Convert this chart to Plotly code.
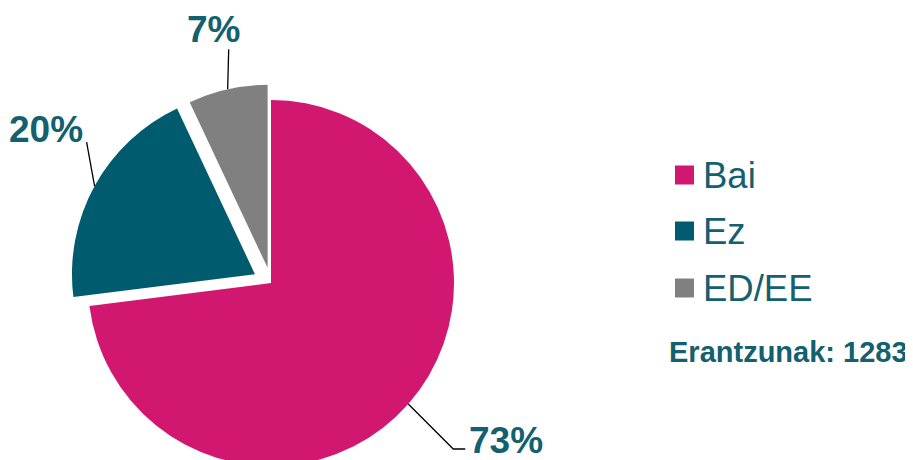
import math
import plotly.graph_objects as go

# ---- data ----
labels = ["Bai", "Ez", "ED/EE"]
values = [73, 20, 7]
colors = ["#D1176F", "#005B6F", "#808080"]
pulls = [0, 0.1, 0.085]
respondents = 1283
note_text = f"Erantzunak: {respondents}"

# ---- layout constants (pixels in the final picture) ----
W, H = 913, 490
OFF = 8  # page body margin
CX, CY, R = 271, 283, 183
TEXT_COLOR = "#13606F"
FONT = "Liberation Sans, Arial, sans-serif"

def px(x):
    return (x - OFF) / W

def py(y):
    return 1 - (y - OFF) / H

half = R * (1 + max(pulls))

fig = go.Figure(
    go.Pie(
        labels=labels,
        values=values,
        marker=dict(colors=colors, line=dict(width=0)),
        pull=pulls,
        sort=False,
        direction="clockwise",
        rotation=0,
        textinfo="none",
        hoverinfo="label+percent",
        showlegend=False,
        domain=dict(x=[px(CX - half), px(CX + half)], y=[py(CY + half), py(CY - half)]),
    )
)

# leader lines + percentage labels, anchored at each slice's mid-angle on its arc
leader_offsets = [
    [(45, 45), (57, 45)],
    [(-8, -44)],
    [(1, -40)],
]
label_offsets = [(98, 36), (-49, -57), (-14, -60)]

shapes = []
annotations = []
total = sum(values)
cum = 0
for i, v in enumerate(values):
    mid = (cum + v / 2) / total * 2 * math.pi
    cum += v
    dx, dy = math.sin(mid), -math.cos(mid)
    ax = CX + pulls[i] * R * dx
    ay = CY + pulls[i] * R * dy
    sx, sy = ax + R * dx, ay + R * dy
    pts = [(sx, sy)] + [(sx + ox, sy + oy) for ox, oy in leader_offsets[i]]
    path = "M " + " L ".join(f"{px(x):.5f},{py(y):.5f}" for x, y in pts)
    shapes.append(dict(type="path", path=path, xref="paper", yref="paper",
                       line=dict(color="black", width=1.3)))
    lx, ly = sx + label_offsets[i][0], sy + label_offsets[i][1]
    annotations.append(dict(
        x=px(lx), y=py(ly), xref="paper", yref="paper",
        text=f"{round(v / total * 100)}%", showarrow=False,
        xanchor="center", yanchor="middle",
        font=dict(family=FONT, size=37, color=TEXT_COLOR, weight="bold"),
    ))

# custom legend
leg_x0, sq = 675, 19
leg_y = [175, 231, 288]
for i, lab in enumerate(labels):
    yc = leg_y[i]
    shapes.append(dict(type="rect", xref="paper", yref="paper",
                       x0=px(leg_x0), x1=px(leg_x0 + sq),
                       y0=py(yc + sq / 2), y1=py(yc - sq / 2),
                       fillcolor=colors[i], line=dict(width=0)))
    annotations.append(dict(
        x=px(701), y=py(yc), xref="paper", yref="paper",
        text=lab, showarrow=False, xanchor="left", yanchor="middle",
        font=dict(family=FONT, size=36.5, color=TEXT_COLOR),
    ))

annotations.append(dict(
    x=px(667), y=py(352), xref="paper", yref="paper",
    text=note_text, showarrow=False, xanchor="left", yanchor="middle",
    font=dict(family=FONT, size=29, color=TEXT_COLOR, weight="bold"),
))

fig.update_layout(
    width=W, height=H,
    margin=dict(l=0, r=0, t=0, b=0),
    paper_bgcolor="white", plot_bgcolor="white",
    shapes=shapes, annotations=annotations,
    showlegend=False,
)

fig.write_html("out.html")
